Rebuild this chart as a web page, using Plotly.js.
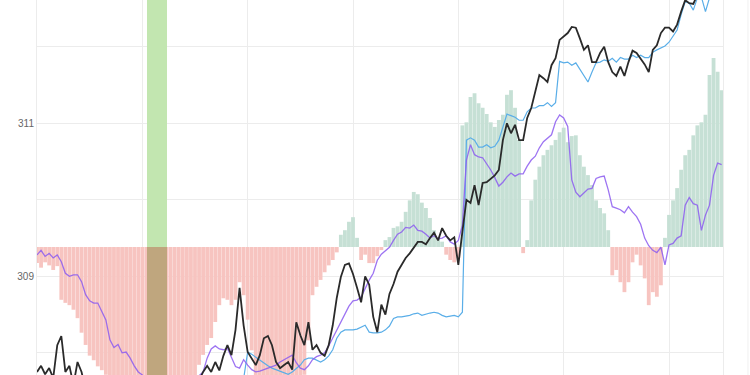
<!DOCTYPE html>
<html>
<head>
<meta charset="utf-8">
<script src="https://cdn.plot.ly/plotly-3.0.1.min.js"></script>
<style>html,body{margin:0;padding:0;background:#fff;}#chart{width:750px;height:375px;}</style>
</head>
<body>
<div id="chart"></div>
<script>
// ---- data ----
const histBase = 309.383;
const hist = [
 -0.21,-0.27,-0.20,-0.24,-0.30,-0.25,-0.69,-0.73,-0.76,-0.82,-0.93,-1.12,-1.28,-1.42,-1.48,-1.56,-1.61,-1.67,-1.74,
 -1.80,-1.86,-1.92,-1.97,-2.02,-2.06,-2.10,-2.12,-2.14,-2.15,-2.14,-2.12,-2.10,-2.06,-2.02,-1.98,-1.92,-1.86,-1.80,-1.74,-1.70,
 -1.54,-1.41,-1.28,-1.19,-0.98,-0.76,-0.67,-0.69,-0.76,-0.69,-0.46,-0.63,-0.95,-1.35,
 -1.74,-1.80,-1.85,-1.90,-1.93,-1.95,-1.96,-1.95,-1.92,-1.88,-1.82,-1.76,-1.67,
 -1.22,
 -0.63,-0.52,-0.43,-0.33,-0.24,-0.17,-0.07,
 0.16,0.22,0.33,0.39,0.12,
 -0.17,-0.10,-0.21,-0.21,-0.12,-0.04,
 0.09,0.13,0.25,0.27,0.33,0.46,0.61,0.72,0.69,0.58,0.51,0.38,0.22,0.12,0.07,
 -0.10,-0.17,-0.20,-0.14,
 1.59,1.63,1.96,2.01,1.88,1.82,1.74,1.63,1.57,1.66,1.73,1.99,2.05,1.82,1.40,
 -0.08,
 0.09,0.61,0.88,1.05,1.20,1.27,1.33,1.40,1.50,1.56,1.37,1.45,1.46,1.20,1.05,0.94,0.81,0.61,0.51,0.44,0.22,
 -0.37,-0.30,-0.46,-0.59,-0.46,-0.20,-0.10,-0.24,-0.41,-0.76,-0.59,-0.65,-0.50,
 0.12,0.42,0.61,0.77,1.01,1.20,1.27,1.46,1.59,1.63,1.73,2.25,2.47,2.29,2.05
];
const price = [
 307.75,307.83,307.72,307.80,307.67,308.10,308.22,307.75,307.83,307.58,307.88,307.75,307.51,
 307.45,307.38,307.50,307.42,307.30,307.35,307.25,307.40,307.32,307.20,307.28,307.35,307.22,307.30,307.40,307.33,307.45,307.38,307.50,307.42,307.55,307.48,307.60,307.52,307.62,307.58,307.65,
 307.64,307.75,307.83,307.75,307.88,307.77,307.96,308.10,307.97,308.30,308.85,308.36,308.01,307.93,307.84,307.97,308.19,308.22,308.10,307.88,
 307.80,307.84,307.88,307.78,308.40,308.23,308.10,308.40,308.04,308.10,308.00,307.96,308.10,308.36,308.72,308.99,309.15,309.17,309.03,308.85,
 308.66,309.00,308.89,308.47,308.27,308.63,308.50,308.77,308.90,309.06,309.15,309.24,309.30,309.38,309.45,309.45,309.42,309.50,309.57,309.47,
 309.63,309.53,309.47,309.51,309.15,309.58,310.00,309.96,310.19,309.93,310.22,310.23,310.28,310.32,310.39,310.78,311.00,310.87,310.98,310.78,
 310.78,311.07,311.20,311.43,311.63,311.59,311.54,311.76,311.85,312.09,312.13,312.18,312.26,312.25,312.11,311.96,312.02,311.80,311.80,311.92,
 312.00,311.80,311.67,311.62,311.74,311.62,311.80,311.95,311.92,311.85,311.77,311.67,311.96,312.02,312.18,312.25,312.25,312.20,312.29,312.46,
 312.61,312.57,312.56,312.68,312.74,312.77,312.81,312.77,312.85,312.87
];
const stopLine = [
 307.60,307.60,307.58,307.58,307.55,307.55,307.55,307.52,307.50,307.50,307.48,307.45,307.45,307.42,307.40,307.40,307.38,307.36,307.35,307.35,
 307.33,307.32,307.30,307.30,307.28,307.28,307.27,307.27,307.26,307.26,307.25,307.25,307.26,307.27,307.28,307.30,307.32,307.34,307.36,307.38,
 307.40,307.42,307.44,307.46,307.48,307.50,307.52,307.54,307.56,307.60,307.62,307.66,
 308.01,307.98,307.94,307.91,307.87,307.83,307.80,307.78,307.75,307.74,307.72,307.75,307.80,307.84,307.91,307.93,307.93,307.91,
 307.88,307.91,307.96,308.04,308.19,308.27,308.30,308.30,308.30,308.31,308.34,308.36,308.27,308.26,308.26,308.27,308.30,308.35,308.45,308.47,
 308.47,308.48,308.49,308.51,308.52,308.49,308.51,308.52,308.53,308.52,308.49,308.47,308.48,308.49,308.47,308.53,310.78,310.81,310.78,310.69,
 310.69,310.72,310.68,310.70,310.78,310.95,311.12,311.10,311.08,311.04,311.04,311.15,311.20,311.20,311.23,311.23,311.27,311.22,311.27,311.81,
 311.79,311.80,311.76,311.79,311.71,311.62,311.54,311.67,311.79,311.80,311.83,311.81,311.85,311.80,311.86,311.84,311.84,311.89,311.86,311.89,
 311.86,311.86,311.93,311.96,311.98,312.01,312.06,312.14,312.22,312.42,312.59,312.57,312.48,312.64,312.65,312.46,312.64,312.68,312.68,312.72
];
const signal = [
 309.28,309.34,309.26,309.30,309.24,309.28,309.19,309.04,309.00,309.02,309.02,308.93,308.76,308.68,308.65,308.65,308.54,308.43,308.17,308.07,
 308.11,308.00,308.01,307.93,307.83,307.75,307.71,307.62,307.55,307.48,307.42,307.38,307.35,307.33,307.35,307.40,307.45,307.52,307.58,307.65,
 307.70,307.75,307.93,308.05,308.09,308.05,308.04,308.06,307.95,307.82,307.80,307.91,307.84,307.78,307.75,307.76,307.78,307.80,307.83,307.84,
 307.88,307.91,307.93,307.97,307.87,307.80,307.78,307.83,307.91,307.95,307.97,308.00,308.09,308.19,308.30,308.40,308.49,308.61,308.68,308.69,
 308.73,308.85,308.95,309.04,309.21,309.29,309.34,309.38,309.47,309.55,309.58,309.64,309.63,309.67,309.60,309.59,309.55,309.50,309.53,309.49,
 309.50,309.53,309.45,309.42,309.47,309.67,310.52,310.72,310.59,310.56,310.55,310.47,310.39,310.29,310.18,310.23,310.30,310.35,310.31,310.34,
 310.34,310.44,310.52,310.57,310.68,310.76,310.81,310.85,311.02,311.11,311.07,310.96,310.26,310.10,310.04,310.09,310.14,310.15,310.28,310.30,
 310.31,310.13,309.91,309.89,309.87,309.83,309.91,309.84,309.78,309.68,309.50,309.40,309.34,309.31,309.38,309.15,309.41,309.43,309.50,309.53,
 309.93,310.03,309.95,309.93,309.60,309.80,309.93,310.32,310.48,310.46
];
const yTickVals = [308, 309, 310, 311, 312];
const yTickText = ['', '309', '', '311', ''];
const bandStart = 27.15, bandEnd = 32.09;

// ---- build ----
const n = hist.length;
const idx = Array.from({length: n}, (_, i) => i);
const barColors = hist.map(v => v >= 0 ? '#c6e0d5' : '#f7c4c0');

const traces = [
  {type: 'bar', x: idx, y: hist, base: histBase, marker: {color: barColors, line: {width: 0}}, hoverinfo: 'skip'},
  {type: 'scatter', mode: 'lines', x: idx, y: stopLine, line: {color: '#5aaee8', width: 1.2}},
  {type: 'scatter', mode: 'lines', x: idx, y: signal, line: {color: 'rgba(140,92,240,0.85)', width: 1.3}},
  {type: 'scatter', mode: 'lines', x: idx, y: price, line: {color: '#2a2a2a', width: 1.8}}
];

const layout = {
  width: 750, height: 375,
  margin: {l: 37, r: 27, t: 0, b: 0, pad: 0},
  paper_bgcolor: '#ffffff', plot_bgcolor: '#ffffff',
  showlegend: false,
  bargap: 0.06,
  font: {family: 'Liberation Sans, Arial, sans-serif', size: 10, color: '#666'},
  xaxis: {range: [0, 169.33], tick0: 0, dtick: 26, showticklabels: false, ticks: '',
          showgrid: true, gridcolor: '#ececec', gridwidth: 1, zeroline: false, showline: false},
  yaxis: {range: [307.71, 312.612], tickmode: 'array', tickvals: yTickVals, ticktext: yTickText,
          ticks: '', showgrid: true, gridcolor: '#ececec', gridwidth: 1, zeroline: false,
          showline: true, mirror: true, linecolor: '#ececec', linewidth: 1,
          tickfont: {size: 10, color: '#666'}},
  shapes: [
    {type: 'rect', xref: 'x', yref: 'y', x0: bandStart, x1: bandEnd, y0: histBase, y1: 313, fillcolor: '#c2e6b0', line: {width: 0}, layer: 'above'},
    {type: 'rect', xref: 'x', yref: 'y', x0: bandStart, x1: bandEnd, y0: 307, y1: histBase, fillcolor: '#bfa67e', line: {width: 0}, layer: 'above'},
    {type: 'line', xref: 'paper', yref: 'paper', x0: 1.0364, x1: 1.0364, y0: 0, y1: 1, line: {color: '#f0f0f0', width: 1}}
  ]
};

Plotly.newPlot('chart', traces, layout, {staticPlot: true, displayModeBar: false});
</script>
</body>
</html>
